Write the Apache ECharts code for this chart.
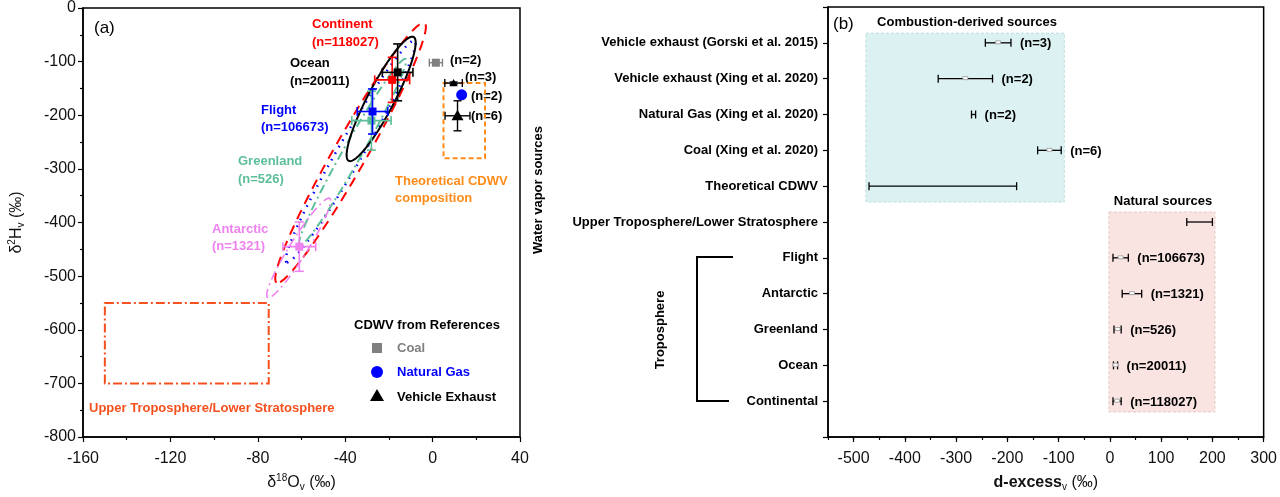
<!DOCTYPE html>
<html><head><meta charset="utf-8">
<script src="https://cdn.jsdelivr.net/npm/echarts/dist/echarts.min.js"></script>
<style>html,body{margin:0;padding:0;background:#fff}#c{width:1280px;height:497px}</style>
</head><body><div id="c"></div>
<script>
// ---------- Panel (a) data ----------
const xTicksA = [-160, -120, -80, -40, 0, 40];
const yTicksA = [0, -100, -200, -300, -400, -500, -600, -700, -800];
// natural sources: mean d18O, d2H, and errors
const natNames = ['Continent', 'Ocean', 'Flight', 'Greenland', 'Antarctic'];
const natN = ['(n=118027)', '(n=20011)', '(n=106673)', '(n=526)', '(n=1321)'];
const natO = [-18.5, -16, -27.5, -28, -61];
const natH = [-134, -120, -193, -210, -445];
const natOErr = [8, 7, 7, 9, 7.5];
const natHErr = [42, 53, 42, 55, 46];
// range ellipses: two ends of the long axis and width/length ratio
const ellEnd1 = [[-3.7, -28], [-8.7, -54], [-8.2, -61], [-12.4, -95], [-47.1, -355]];
const ellEnd2 = [[-71.4, -512], [-38.4, -285], [-66.8, -474], [-60.9, -443], [-75.5, -540]];
const ellRatio = [0.11, 0.19, 0.097, 0.086, 0.15];
// CDWV from references
const cdwvNames = ['Coal', 'Vehicle Exhaust', 'Natural Gas', 'Vehicle Exhaust'];
const cdwvO = [1.5, 9.6, 13.3, 11.4];
const cdwvH = [-102, -140, -162, -201];
const cdwvOErr = [3, 4, 0, 5.7];
const cdwvHErr = [0, 2, 0, 28];
const cdwvN = ['(n=2)', '(n=3)', '(n=2)', '(n=6)'];
// regions
const utlsO = [-150, -75], utlsH = [-700, -550];
const theoO = [5, 24], theoH = [-280, -140];

// ---------- Panel (b) data ----------
const cats = ['Vehicle exhaust (Gorski et al. 2015)', 'Vehicle exhaust (Xing et al. 2020)',
  'Natural Gas (Xing et al. 2020)', 'Coal (Xing et al. 2020)', 'Theoretical CDWV',
  'Upper Troposphere/Lower Stratosphere', 'Flight', 'Antarctic', 'Greenland', 'Ocean', 'Continental'];
const dexMean = [-218, -282, -266, -118, -326, 175, 21, 43, 15, 11, 14];
const dexErr = [25, 53, 4, 23, 144, 25, 15, 19, 7, 4, 8];
const dexHasMean = [1, 1, 0, 1, 0, 0, 1, 1, 1, 1, 1];
const dexN = ['(n=3)', '(n=2)', '(n=2)', '(n=6)', '', '', '(n=106673)', '(n=1321)', '(n=526)', '(n=20011)', '(n=118027)'];
const xTicksB = [-500, -400, -300, -200, -100, 0, 100, 200, 300];
const boxX = [[-476, -89], [-2, 205]];
const boxY = [[0.73, 5.44], [5.72, 11.3]];

// ---------- styles ----------
const FONT = 'Arial, "Liberation Sans", Helvetica, sans-serif';
const natColors = ['#ff0000', '#000000', '#0000ff', '#5cbf99', '#ee82ee'];
const ellStyles = [
  {stroke: '#ff0000', lineWidth: 2, lineDash: [10, 7]},
  {stroke: '#000000', lineWidth: 2, lineDash: null},
  {stroke: '#0000ff', lineWidth: 2.5, lineDash: [1.5, 6]},
  {stroke: '#5cbf99', lineWidth: 2, lineDash: [9, 4, 2, 4]},
  {stroke: '#ee82ee', lineWidth: 1.6, lineDash: [9, 4, 2, 4]}
];
const cdwvColors = ['#808080', '#000000', '#0000ff', '#000000'];
const cdwvShapes = ['rect', 'triangle', 'circle', 'triangle'];
const cdwvSizes = [8, 7, 11, 10];

function makeEllipseSeries(i) {
  return {
    type: 'custom', xAxisIndex: 0, yAxisIndex: 0, silent: true, z: 2,
    data: [ellEnd1[i]],
    renderItem: function (params, api) {
      const p1 = api.coord(ellEnd1[i]), p2 = api.coord(ellEnd2[i]);
      const cx = (p1[0] + p2[0]) / 2, cy = (p1[1] + p2[1]) / 2;
      const dx = p2[0] - p1[0], dy = p2[1] - p1[1];
      const L = Math.hypot(dx, dy), a = L / 2, b = a * ellRatio[i];
      const ux = dx / L, uy = dy / L, vx = -uy, vy = ux;
      const pts = [];
      for (let k = 0; k <= 160; k++) {
        const t = k / 160 * 2 * Math.PI;
        const c = Math.cos(t) * a, s = Math.sin(t) * b;
        pts.push([cx + ux * c + vx * s, cy + uy * c + vy * s]);
      }
      return {type: 'polyline', shape: {points: pts},
        style: Object.assign({fill: null}, ellStyles[i])};
    }
  };
}

function marker(shape, c, size, color) {
  if (shape === 'circle') return {type: 'circle', shape: {cx: c[0], cy: c[1], r: size / 2}, style: {fill: color}};
  if (shape === 'triangle') {
    const h = size;
    return {type: 'polygon', shape: {points: [[c[0], c[1] - h * 0.6], [c[0] + h * 0.6, c[1] + h * 0.45], [c[0] - h * 0.6, c[1] + h * 0.45]]}, style: {fill: color}};
  }
  return {type: 'rect', shape: {x: c[0] - size / 2, y: c[1] - size / 2, width: size, height: size}, style: {fill: color}};
}

function errBars(api, x, y, ex, ey, color, lw, cap) {
  const ch = [];
  const st = {stroke: color, lineWidth: lw};
  if (ex > 0) {
    const l = api.coord([x - ex, y]), r = api.coord([x + ex, y]);
    ch.push({type: 'line', shape: {x1: l[0], y1: l[1], x2: r[0], y2: r[1]}, style: st});
    ch.push({type: 'line', shape: {x1: l[0], y1: l[1] - cap, x2: l[0], y2: l[1] + cap}, style: st});
    ch.push({type: 'line', shape: {x1: r[0], y1: r[1] - cap, x2: r[0], y2: r[1] + cap}, style: st});
  }
  if (ey > 0) {
    const t = api.coord([x, y + ey]), b = api.coord([x, y - ey]);
    ch.push({type: 'line', shape: {x1: t[0], y1: t[1], x2: b[0], y2: b[1]}, style: st});
    ch.push({type: 'line', shape: {x1: t[0] - cap, y1: t[1], x2: t[0] + cap, y2: t[1]}, style: st});
    ch.push({type: 'line', shape: {x1: b[0] - cap, y1: b[1], x2: b[0] + cap, y2: b[1]}, style: st});
  }
  return ch;
}

const natOrder = [4, 3, 2, 0, 1];
const natSeries = {
  type: 'custom', xAxisIndex: 0, yAxisIndex: 0, silent: true, z: 3,
  data: natOrder.map(i => [natO[i], natH[i], natOErr[i], natHErr[i], i]),
  renderItem: function (params, api) {
    const i = api.value(4);
    const x = api.value(0), y = api.value(1);
    const ch = errBars(api, x, y, api.value(2), api.value(3), natColors[i], 1.6, 4.5);
    ch.push(marker('rect', api.coord([x, y]), 8, natColors[i]));
    return {type: 'group', children: ch};
  }
};
const cdwvSeries = {
  type: 'custom', xAxisIndex: 0, yAxisIndex: 0, silent: true, z: 3,
  data: cdwvO.map((v, i) => [v, cdwvH[i], cdwvOErr[i], cdwvHErr[i], i]),
  renderItem: function (params, api) {
    const i = api.value(4);
    const x = api.value(0), y = api.value(1);
    const ch = errBars(api, x, y, api.value(2), api.value(3), cdwvColors[i], 1.4, 4);
    ch.push(marker(cdwvShapes[i], api.coord([x, y]), cdwvSizes[i], cdwvColors[i]));
    return {type: 'group', children: ch};
  }
};
function rectSeries(xr, yr, style) {
  return {
    type: 'custom', xAxisIndex: 0, yAxisIndex: 0, silent: true, z: 2,
    data: [[xr[0], yr[0], xr[1], yr[1]]],
    renderItem: function (params, api) {
      const p1 = api.coord([api.value(0), api.value(3)]), p2 = api.coord([api.value(2), api.value(1)]);
      return {type: 'rect', shape: {x: p1[0], y: p1[1], width: p2[0] - p1[0], height: p2[1] - p1[1]},
        style: Object.assign({fill: null}, style)};
    }
  };
}

// Panel (b) series
const boxSeries = {
  type: 'custom', xAxisIndex: 1, yAxisIndex: 1, silent: true, z: 1,
  data: boxX.map((r, i) => [r[0], boxY[i][0], r[1], boxY[i][1], i]),
  renderItem: function (params, api) {
    const i = api.value(4);
    const p1 = api.coord([api.value(0), api.value(1)]), p2 = api.coord([api.value(2), api.value(3)]);
    const fills = ['#dcf2f2', '#f9e4e2'];
    const strokes = ['#b9dcdc', '#e6c9c6'];
    return {type: 'rect', shape: {x: p1[0], y: p1[1], width: p2[0] - p1[0], height: p2[1] - p1[1]},
      style: {fill: fills[i], stroke: strokes[i], lineWidth: 1, lineDash: [3, 2]}};
  }
};
const dexSeries = {
  type: 'custom', xAxisIndex: 1, yAxisIndex: 1, silent: true, z: 3,
  data: dexMean.map((m, i) => [m, i + 1, dexErr[i], i]),
  renderItem: function (params, api) {
    const k = api.value(3);
    const m = api.value(0), y = api.value(1), e = api.value(2);
    const l = api.coord([m - e, y]), r = api.coord([m + e, y]), c = api.coord([m, y]);
    const st = {stroke: '#000', lineWidth: 1.3};
    const cap = 4;
    const ch = [
      {type: 'line', shape: {x1: l[0], y1: l[1], x2: r[0], y2: r[1]}, style: st},
      {type: 'line', shape: {x1: l[0], y1: l[1] - cap, x2: l[0], y2: l[1] + cap}, style: st},
      {type: 'line', shape: {x1: r[0], y1: r[1] - cap, x2: r[0], y2: r[1] + cap}, style: st}
    ];
    if (dexHasMean[k]) {
      ch.push({type: 'rect', shape: {x: c[0] - 2.5, y: c[1] - 2, width: 5, height: 3}, style: {fill: '#fff', stroke: '#999', lineWidth: 0.8}});
    }
    if (dexN[k]) {
      ch.push({type: 'text', style: {x: r[0] + 9, y: r[1] + 1, text: dexN[k], fill: '#000',
        font: 'bold 13px ' + FONT, textAlign: 'left', textVerticalAlign: 'middle'}});
    }
    return {type: 'group', children: ch};
  }
};

const axisLine = {show: true, onZero: false, lineStyle: {color: '#000', width: 1.5}};
const tickSt = {show: true, length: 5, lineStyle: {color: '#000', width: 1.2}};
const minorSt = {show: true, splitNumber: 2, length: 3, lineStyle: {color: '#000', width: 1.2}};
const labSt = {color: '#111', fontSize: 16, fontFamily: FONT};

function txt(x, y, text, color, size, weight, align, rot) {
  return {type: 'text', x: x, y: y, rotation: rot || 0, silent: true,
    style: {text: text, fill: color, font: (weight || 'bold') + ' ' + (size || 13) + 'px ' + FONT,
      textAlign: align || 'left', textVerticalAlign: 'middle'}};
}

const graphics = [
  txt(94, 28, '(a)', '#000', 17, 'normal'),
  txt(312, 24, natNames[0], natColors[0]), txt(312, 42, natN[0], natColors[0]),
  txt(290, 63, natNames[1], natColors[1]), txt(290, 81, natN[1], natColors[1]),
  txt(261, 110, natNames[2], natColors[2]), txt(261, 127, natN[2], natColors[2]),
  txt(238, 161, natNames[3], natColors[3]), txt(238, 179, natN[3], natColors[3]),
  txt(212, 229, natNames[4], natColors[4]), txt(212, 246, natN[4], natColors[4]),
  txt(450, 60, cdwvN[0], '#000'), txt(465, 77, cdwvN[1], '#000'),
  txt(471, 96, cdwvN[2], '#000'), txt(471, 116, cdwvN[3], '#000'),
  txt(395, 181, 'Theoretical CDWV', '#ff8c1a'), txt(395, 198, 'composition', '#ff8c1a'),
  txt(89, 408, 'Upper Troposphere/Lower Stratosphere', '#f4511e'),
  txt(354, 325, 'CDWV from References', '#000'),
  {type: 'rect', shape: {x: 372, y: 343, width: 10, height: 10}, style: {fill: '#808080'}, silent: true},
  txt(397, 348, 'Coal', '#808080'),
  {type: 'circle', shape: {cx: 377, cy: 372, r: 6}, style: {fill: '#0000ff'}, silent: true},
  txt(397, 372, 'Natural Gas', '#0000ff'),
  {type: 'polygon', shape: {points: [[377, 389], [384, 401], [370, 401]]}, style: {fill: '#000'}, silent: true},
  txt(397, 397, 'Vehicle Exhaust', '#000'),
  // panel b
  txt(833, 24, '(b)', '#000', 17, 'normal'),
  txt(967, 22, 'Combustion-derived sources', '#000', 13, 'bold', 'center'),
  txt(1163, 201, 'Natural sources', '#000', 13, 'bold', 'center'),
  txt(538, 190, 'Water vapor sources', '#000', 13, 'bold', 'center', Math.PI / 2),
  txt(660, 330, 'Troposphere', '#000', 13, 'bold', 'center', Math.PI / 2),
  {type: 'polyline', silent: true, shape: {points: [[733, 257], [697, 257], [697, 401], [729, 401]]},
    style: {stroke: '#000', lineWidth: 2, fill: null}}
];

const option = {
  backgroundColor: '#fff',
  animation: false,
  grid: [
    {left: 83, top: 7, width: 437, height: 430, show: true, borderColor: '#000', borderWidth: 1.5, containLabel: false},
    {left: 828, top: 7, width: 437, height: 430, show: true, borderColor: '#000', borderWidth: 1.5, containLabel: false}
  ],
  xAxis: [
    {gridIndex: 0, type: 'value', position: 'bottom', min: xTicksA[0], max: xTicksA[xTicksA.length - 1], interval: 40,
      axisLine: axisLine, axisTick: tickSt, minorTick: minorSt, splitLine: {show: false},
      axisLabel: Object.assign({margin: 14}, labSt),
      name: '{n|δ}{sup|18}{n|O}{sub|v}{n| (‰)}', nameLocation: 'middle', nameGap: 36,
      nameTextStyle: {fontFamily: FONT, color: '#111', rich: {
        n: {fontSize: 16, fontFamily: FONT, color: '#111'},
        sup: {fontSize: 10, fontFamily: FONT, color: '#111', padding: [0, 0, 9, 0]},
        sub: {fontSize: 10, fontFamily: FONT, color: '#111', padding: [9, 0, 0, 0]}}}},
    {gridIndex: 1, type: 'value', position: 'bottom', min: -550, max: 300, interval: 50,
      axisLine: axisLine, axisTick: Object.assign({customValues: xTicksB}, tickSt), splitLine: {show: false},
      axisLabel: Object.assign({margin: 14, customValues: xTicksB}, labSt),
      name: '{b|d-excess}{sub|v}{n| (‰)}', nameLocation: 'middle', nameGap: 36,
      nameTextStyle: {fontFamily: FONT, color: '#111', rich: {
        b: {fontSize: 16, fontWeight: 'bold', fontFamily: FONT, color: '#111'},
        n: {fontSize: 16, fontFamily: FONT, color: '#111'},
        sub: {fontSize: 10, fontFamily: FONT, color: '#111', padding: [9, 0, 0, 0]}}}},
    {gridIndex: 1, type: 'value', position: 'bottom', offset: 0, min: -550, max: 300, interval: 50,
      axisLine: {show: false, onZero: false}, axisTick: {show: true, length: 3, lineStyle: {color: '#000', width: 1.2}},
      axisLabel: {show: false}, splitLine: {show: false}}
  ],
  yAxis: [
    {gridIndex: 0, type: 'value', position: 'left', min: yTicksA[yTicksA.length - 1], max: yTicksA[0], interval: 100,
      axisLine: axisLine, axisTick: tickSt, minorTick: minorSt, splitLine: {show: false},
      axisLabel: Object.assign({margin: 7}, labSt),
      name: '{n|δ}{sup|2}{n|H}{sub|v}{n| (‰)}', nameLocation: 'middle', nameGap: 57, nameRotate: 90,
      nameTextStyle: {fontFamily: FONT, color: '#111', rich: {
        n: {fontSize: 16, fontFamily: FONT, color: '#111'},
        sup: {fontSize: 10, fontFamily: FONT, color: '#111', padding: [0, 0, 9, 0]},
        sub: {fontSize: 10, fontFamily: FONT, color: '#111', padding: [9, 0, 0, 0]}}}},
    {gridIndex: 1, type: 'value', position: 'left', min: 0, max: 12, interval: 1, inverse: true,
      axisLine: axisLine, axisTick: tickSt, splitLine: {show: false},
      axisLabel: {margin: 10, color: '#000', fontSize: 13, fontWeight: 'bold', fontFamily: FONT,
        formatter: v => cats[v - 1] || ''}}
  ],
  graphic: graphics,
  series: [
    rectSeries(utlsO, utlsH, {stroke: '#f4511e', lineWidth: 2, lineDash: [9, 3, 2, 3]}),
    rectSeries(theoO, theoH, {stroke: '#ff8c1a', lineWidth: 2, lineDash: [5, 3]}),
    makeEllipseSeries(0), makeEllipseSeries(2), makeEllipseSeries(3), makeEllipseSeries(4), makeEllipseSeries(1),
    natSeries, cdwvSeries,
    boxSeries, dexSeries
  ]
};
const chart = echarts.init(document.getElementById('c'));
chart.setOption(option);
</script></body></html>
